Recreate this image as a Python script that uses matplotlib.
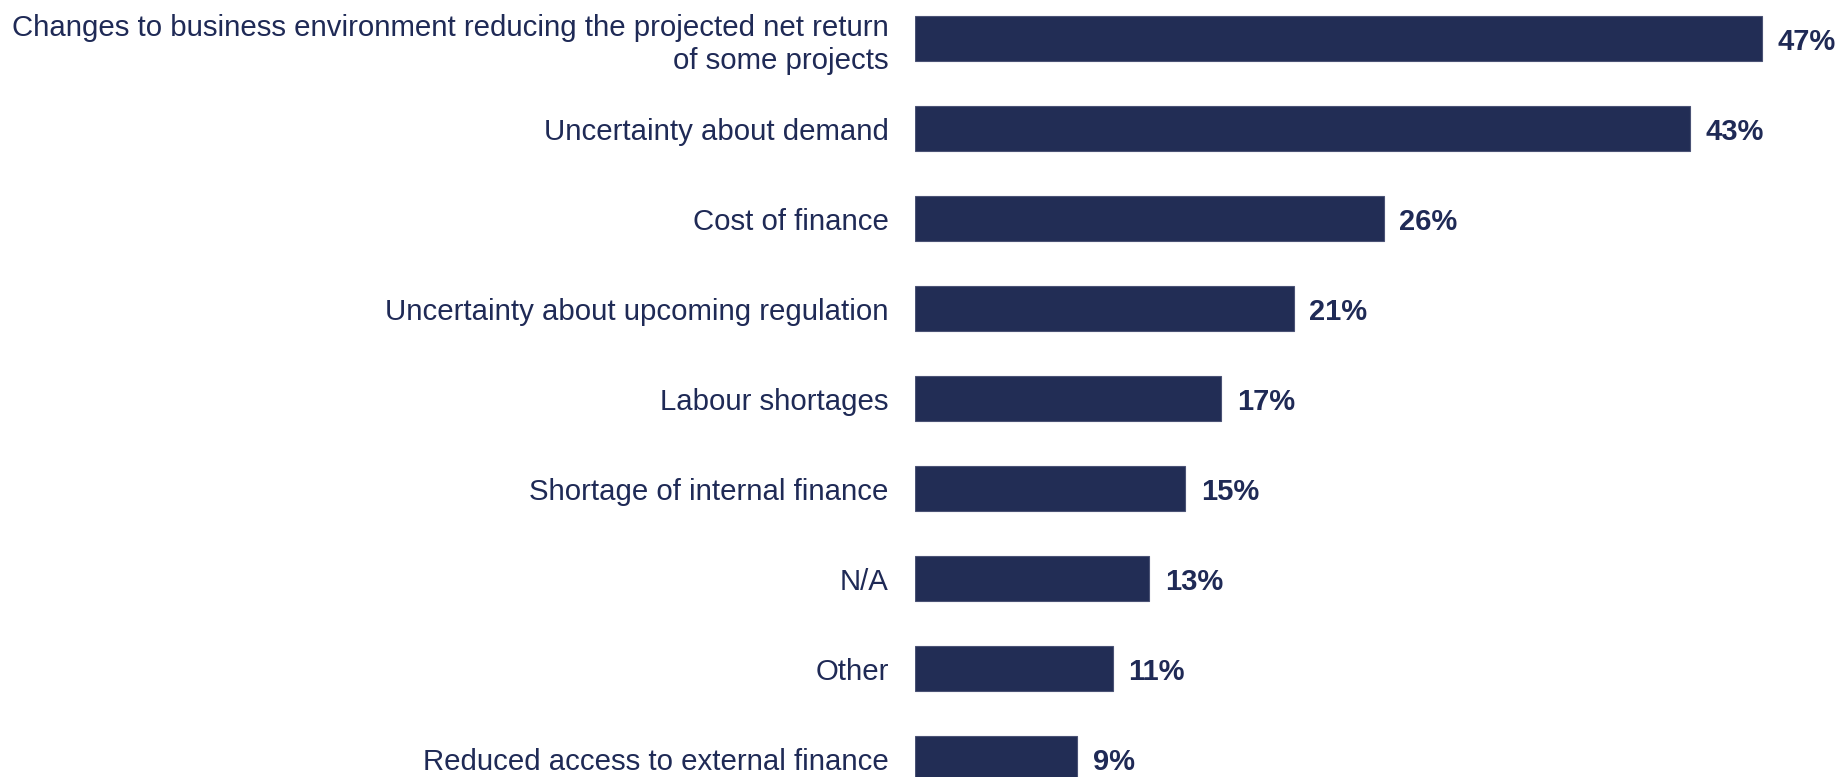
import matplotlib.pyplot as plt

categories = [
    "Changes to business environment reducing the projected net return\nof some projects",
    "Uncertainty about demand",
    "Cost of finance",
    "Uncertainty about upcoming regulation",
    "Labour shortages",
    "Shortage of internal finance",
    "N/A",
    "Other",
    "Reduced access to external finance",
]
values = [47, 43, 26, 21, 17, 15, 13, 11, 9]

navy = "#222d55"
text_col = "#1f2a56"

plt.rcParams['font.family'] = ['Liberation Sans', 'DejaVu Sans']

fig = plt.figure(figsize=(18.47, 7.77), dpi=100)
ax = fig.add_axes([915 / 1847, 0, 1 - 915 / 1847, 1])

pos = list(range(len(categories)))
ax.barh(pos, values, height=0.5, color=navy, edgecolor="#4a5275", linewidth=0.8)

# value labels just past the end of each bar
for p, v in zip(pos, values):
    ax.text(v + 0.85, p + 0.03, f"{v}%", va="center", ha="left",
            fontsize=21, fontweight="bold", color=text_col)

ax.set_yticks(pos)
ax.set_yticklabels(categories, fontsize=21.2, color=text_col, ha="right",
                   linespacing=1.25)
ax.tick_params(axis="y", length=0, pad=19)
ax.set_xticks([])
ax.set_xlim(0, 51.7)
ax.set_ylim(8.2, -0.433)
for s in ax.spines.values():
    s.set_visible(False)

fig.savefig("out.png", dpi=100)
